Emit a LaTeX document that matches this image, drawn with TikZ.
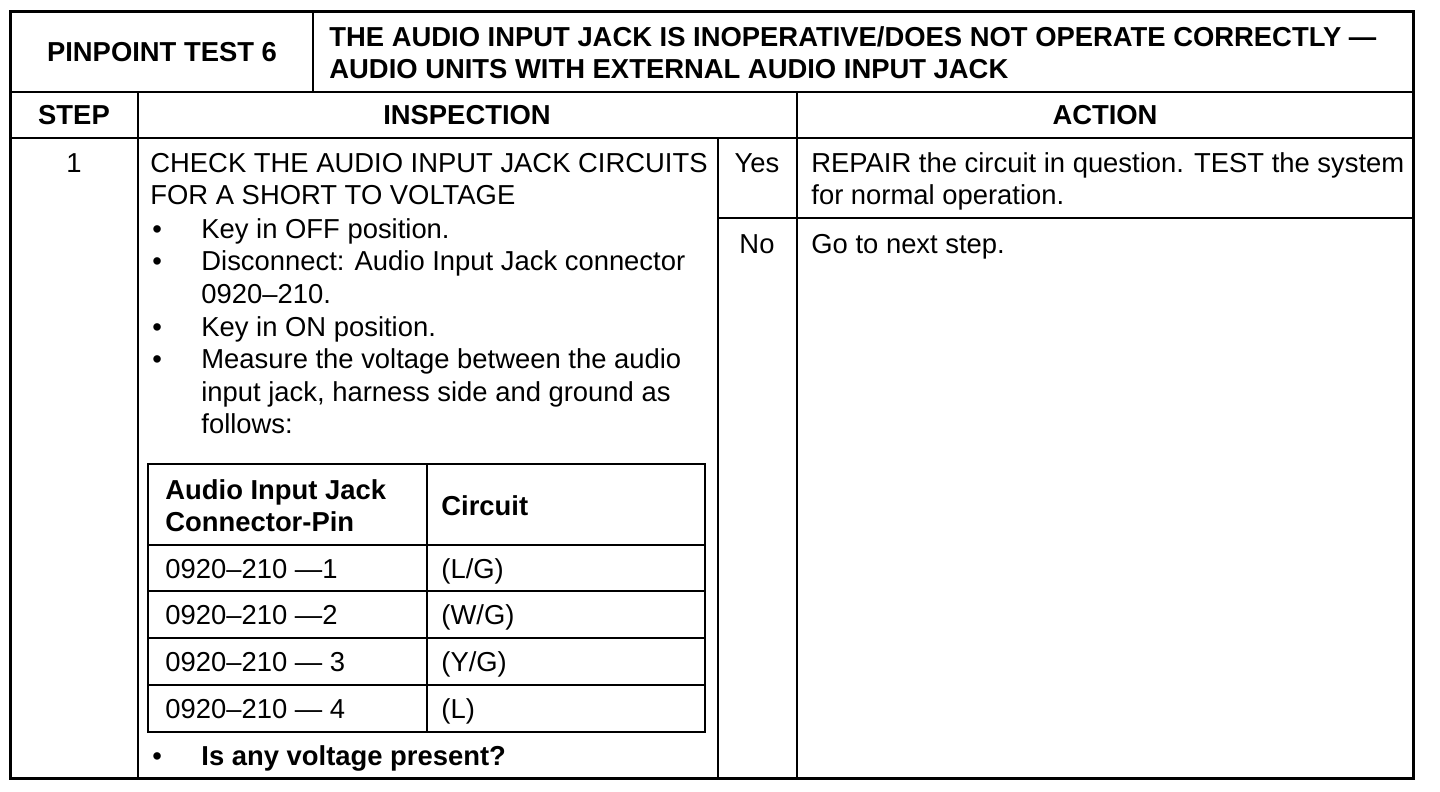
\documentclass[tikz,border=0pt]{standalone}
\usepackage{fontspec}
\setmainfont{Liberation Sans}

\begin{document}
\begin{tikzpicture}[x=0.5pt,y=-0.5pt,
    frame/.style={line width=1.5pt},
    rule/.style={line width=1.2pt},
    txt/.style={anchor=base west,inner sep=0pt,yshift=-0.5pt,font=\fontsize{13.7}{16}\selectfont},
    btxt/.style={txt,font=\fontsize{13.7}{16}\selectfont\bfseries},
    ctxt/.style={txt,anchor=base},
    head/.style={btxt,anchor=base}]
    \useasboundingbox (0,0) rectangle (1440,792);
    % outer frame and rules
    \draw[frame] (10,12) rectangle (1413,778);
    \draw[rule] (10,92) -- (1413,92);
    \draw[rule] (313,12) -- (313,92);
    \draw[rule] (10,138) -- (1413,138);
    \draw[rule] (138,92) -- (138,778);
    \draw[rule] (797,92) -- (797,778);
    \draw[rule] (718,138) -- (718,778);
    \draw[rule] (718,218) -- (1413,218);
    % title row
    \node[head] (pt) at (162,61) {PINPOINT TEST 6};
    \node[btxt] (tl1) at (329,46) {THE AUDIO INPUT JACK IS INOPERATIVE/DOES NOT OPERATE CORRECTLY ---};
    \node[btxt] (tl2) at (329,78) {AUDIO UNITS WITH EXTERNAL AUDIO INPUT JACK};
    % column heads
    \node[head] (step) at (74,124) {STEP};
    \node[head] (insp) at (467,124) {INSPECTION};
    \node[head] (act) at (1105,124) {ACTION};
    \node[ctxt] (s1) at (74,171) {1};
    % inspection text
    \foreach \yy/\t in {171/{CHECK THE AUDIO INPUT JACK CIRCUITS},204/{FOR A SHORT TO VOLTAGE}}
      \node[txt] (c\yy) at (150,\yy) {\t};
    \foreach \yy in {237,269,335,367}
      \node[txt] (d\yy) at (152,\yy) {\textbullet};
    \foreach \yy/\t in {237/{Key in OFF position.},269/{Disconnect: Audio Input Jack connector},
        302/{0920--210.},335/{Key in ON position.},367/{Measure the voltage between the audio},
        400/{input jack, harness side and ground as},432/{follows:}}
      \node[txt] (i\yy) at (201,\yy) {\t};
    % connector table
    \draw[rule] (148,464) rectangle (705,732);
    \draw[rule] (427,464) -- (427,732);
    \foreach \yy in {545,591,638,685}
      \draw[rule] (148,\yy) -- (705,\yy);
    \node[btxt] (ph1) at (165,498) {Audio Input Jack};
    \node[btxt] (ph2) at (165,530) {Connector-Pin};
    \node[btxt] (ch) at (441,514) {Circuit};
    \foreach \yy/\p/\c in {577/{0920--210 ---1}/{(L/G)},623/{0920--210 ---2}/{(W/G)},
        670/{0920--210 --- 3}/{(Y/G)},717/{0920--210 --- 4}/{(L)}}{
      \node[txt] (p\yy) at (165,\yy) {\p};
      \node[txt] (r\yy) at (441,\yy) {\c};
    }
    \node[txt] (dq) at (152,764) {\textbullet};
    \node[btxt] (q) at (201,764) {Is any voltage present?};
    % answers
    \node[ctxt] (yes) at (757,171) {Yes};
    \node[ctxt] (no) at (757,252) {No};
    \node[txt] (a1) at (811,171) {REPAIR the circuit in question. TEST the system};
    \node[txt] (a2) at (811,204) {for normal operation.};
    \node[txt] (a3) at (811,252) {Go to next step.};
\end{tikzpicture}
\end{document}
